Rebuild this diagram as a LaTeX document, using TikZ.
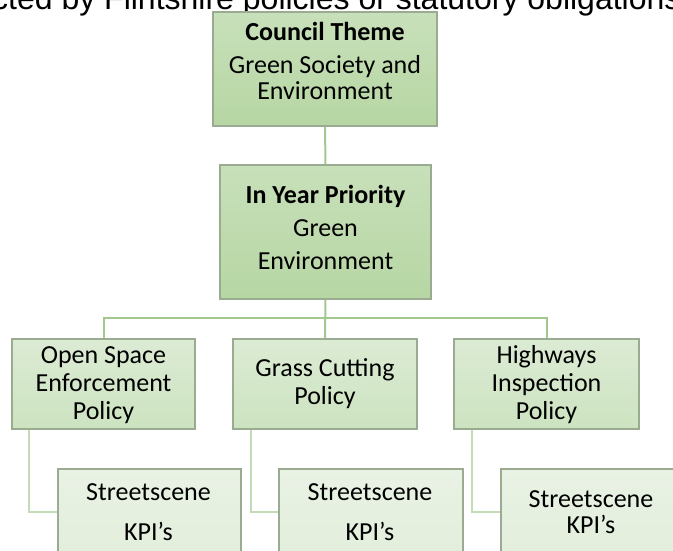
\documentclass[tikz,border=0pt]{standalone}
\usepackage{fontspec}
\setmainfont{Carlito}
\newfontfamily\titlefont{Liberation Sans}
\definecolor{bordc}{HTML}{9AAB92}
\definecolor{lineA}{HTML}{A2C88F}
\definecolor{lineB}{HTML}{C4DBB7}
\definecolor{topA}{HTML}{C8E0BA}
\definecolor{botA}{HTML}{B6D6A3}
\definecolor{topB}{HTML}{DCEBD4}
\definecolor{botB}{HTML}{CCE3C0}
\definecolor{topC}{HTML}{E9F2E4}
\definecolor{botC}{HTML}{DFECD8}
\tikzset{
  box/.style={draw=bordc, line width=1.3pt, rectangle, inner sep=0pt},
  lvA/.style={box, top color=topA, bottom color=botA},
  lvB/.style={box, top color=topB, bottom color=botB},
  lvC/.style={box, top color=topC, bottom color=botC},
  txt/.style={font=\fontsize{26}{27}\selectfont, align=center, anchor=base, inner sep=0pt},
  conn/.style={draw=lineA, line width=2pt},
  conntwo/.style={draw=lineB, line width=2pt},
}
\begin{document}
\begin{tikzpicture}[x=1pt,y=-1pt]
\useasboundingbox (0,0) rectangle (673,551);
\begin{scope}
\clip (0,0) rectangle (673,551);
\node[anchor=base west, inner sep=0pt, font=\titlefont\fontsize{32}{36}\selectfont] (title) at (-8,10) {cted by Flintshire policies or statutory obligations};
% connectors (drawn under the boxes)
\coordinate (ctS) at (325,126);
\coordinate (iyN) at (325,165);
% boxes
\node[lvA, minimum width=224pt, minimum height=114pt] (ct) at (325,69) {};
\node[lvA, minimum width=211pt, minimum height=134pt] (iy) at (325.5,232) {};
\node[lvB, minimum width=183pt, minimum height=90pt] (p1) at (103.5,384) {};
\node[lvB, minimum width=184pt, minimum height=90pt] (p2) at (325,384) {};
\node[lvB, minimum width=185pt, minimum height=90pt] (p3) at (546.5,384) {};
\node[lvC, minimum width=183pt, minimum height=132pt] (k1) at (149.5,535) {};
\node[lvC, minimum width=184pt, minimum height=132pt] (k2) at (371,535) {};
\node[lvC, minimum width=189pt, minimum height=132pt] (k3) at (595.5,535) {};
% connectors
\draw[conn] (ct.south) -- (iy.north);
\draw[conn] (iy.south) -- (p2.north);
\draw[conn] (p1.north) -- ++(0,-20) -| (p3.north);
\draw[conntwo] ([xshift=18pt]p1.south west) |- ([yshift=-44pt]k1.north west);
\draw[conntwo] ([xshift=19pt]p2.south west) |- ([yshift=-44pt]k2.north west);
\draw[conntwo] ([xshift=19pt]p3.south west) |- ([yshift=-44pt]k3.north west);
% texts (anchor base = last line)
\node[txt] (ct-t) at (325,100) {\textbf{Council Theme}\\[5pt]Green Society and\\Environment};
\node[txt] (iy-t) at (325.5,269) {\textbf{In Year Priority}\\[6pt]Green\\[6pt]Environment};
\node[txt] (p1-t) at (103.5,419) {Open Space\\[1pt]Enforcement\\[1pt]Policy};
\node[txt] (p2-t) at (325,404) {Grass Cutting\\[1pt]Policy};
\node[txt] (p3-t) at (546.5,419) {Highways\\[1pt]Inspection\\[1pt]Policy};
\node[txt] (k1-t) at (148.5,540) {Streetscene\\[13pt]KPI’s};
\node[txt] (k2-t) at (370,540) {Streetscene\\[13pt]KPI’s};
\node[txt] (k3-t) at (591,533) {Streetscene\\[-1pt]KPI’s};
\end{scope}
\end{tikzpicture}
\end{document}
